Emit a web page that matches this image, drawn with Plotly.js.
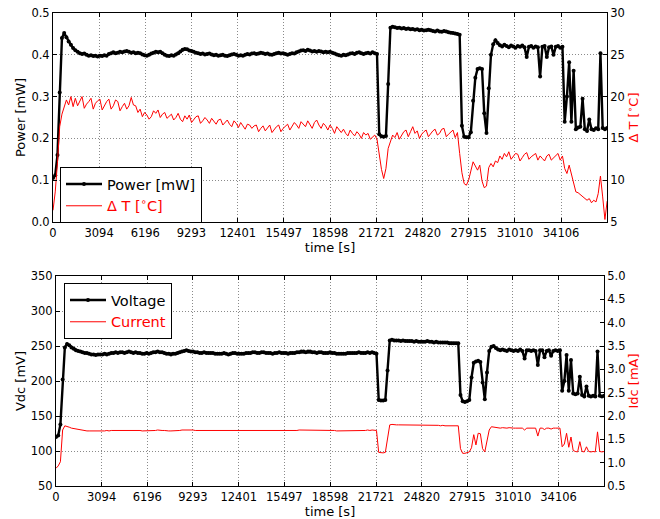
<!DOCTYPE html>
<html><head><meta charset="utf-8">
<script src="https://cdn.plot.ly/plotly-3.0.1.min.js"></script>
<style>html,body{margin:0;padding:0;background:#fff}#chart{width:660px;height:519px}</style>
</head><body><div id="chart"></div>
<script>
// Sampling of the recorded series (seconds)
const SAMPLE_START_S = 0;
const SAMPLE_STEP_S = 150;

const timeTickValues = [0, 3094, 6196, 9293, 12401, 15497, 18598, 21721, 24820, 27915, 31010, 34106];
const timeTickLabels = ['0', '3094', '6196', '9293', '12401', '15497', '18598', '21721', '24820', '27915', '31010', '34106'];

const powerMW = [
0.105,0.112,0.16,0.31,0.44,0.452,0.442,0.432,0.424,0.416,
0.411,0.407,0.404,0.402,0.403,0.400,0.398,0.399,0.397,0.398,
0.396,0.398,0.397,0.399,0.398,0.402,0.404,0.406,0.404,0.405,
0.407,0.406,0.408,0.409,0.407,0.405,0.406,0.404,0.405,0.404,
0.401,0.399,0.398,0.400,0.403,0.405,0.407,0.406,0.407,0.404,
0.400,0.398,0.397,0.399,0.398,0.401,0.404,0.408,0.412,0.414,
0.413,0.410,0.409,0.407,0.405,0.404,0.402,0.403,0.401,0.402,
0.403,0.401,0.399,0.400,0.398,0.399,0.400,0.398,0.397,0.399,
0.401,0.402,0.400,0.398,0.399,0.398,0.400,0.402,0.401,0.403,
0.404,0.402,0.403,0.405,0.404,0.402,0.403,0.401,0.400,0.402,
0.404,0.405,0.403,0.404,0.402,0.400,0.402,0.404,0.403,0.406,
0.408,0.410,0.411,0.409,0.412,0.410,0.408,0.409,0.407,0.409,
0.408,0.406,0.407,0.406,0.407,0.405,0.403,0.401,0.399,0.398,
0.400,0.399,0.401,0.403,0.404,0.402,0.405,0.406,0.404,0.402,
0.404,0.405,0.403,0.406,0.404,0.402,0.21,0.205,0.204,0.206,
0.33,0.465,0.467,0.466,0.464,0.465,0.463,0.464,0.462,0.463,
0.461,0.462,0.460,0.461,0.459,0.460,0.458,0.459,0.460,0.459,
0.457,0.456,0.458,0.456,0.455,0.457,0.456,0.454,0.453,0.452,
0.451,0.450,0.448,0.23,0.204,0.203,0.203,0.215,0.29,0.345,
0.366,0.368,0.366,0.26,0.213,0.32,0.40,0.425,0.435,0.428,
0.423,0.420,0.424,0.421,0.418,0.422,0.420,0.417,0.421,0.419,
0.422,0.418,0.395,0.419,0.421,0.417,0.420,0.418,0.348,0.419,
0.421,0.395,0.418,0.420,0.400,0.419,0.421,0.417,0.419,0.24,
0.30,0.382,0.24,0.362,0.222,0.226,0.228,0.295,0.222,0.218,
0.245,0.222,0.220,0.224,0.222,0.404,0.225,0.222,0.225
];

const deltaTC = [
6.4,8.6,12.1,16.4,17.9,18.7,19.6,19.0,20.0,18.8,
19.8,18.9,19.5,20.0,18.6,19.1,19.4,19.8,18.5,19.2,
19.5,19.7,18.4,18.9,19.4,19.7,18.5,18.9,19.6,19.4,
18.3,18.8,19.2,18.5,18.9,19.9,19.0,18.9,18.1,18.5,
17.6,18.1,17.8,17.3,17.6,18.3,18.0,18.4,17.5,17.9,
18.1,17.4,17.6,17.9,17.2,17.5,18.0,17.3,17.0,17.7,
17.3,17.8,16.9,17.2,17.6,17.7,16.8,17.1,17.5,17.2,
16.8,17.4,17.1,16.7,17.2,17.3,16.6,16.9,17.2,16.7,
16.4,17.1,16.8,16.3,16.9,16.5,16.1,16.7,16.6,16.2,
16.5,16.6,15.8,16.2,16.5,15.9,16.3,16.6,15.7,16.1,
16.4,16.6,15.8,16.2,16.5,16.7,16.0,16.4,16.9,16.6,
16.2,17.0,16.7,16.4,17.1,16.6,16.2,16.9,17.2,16.6,
16.2,16.8,16.5,16.0,16.6,16.2,15.6,16.4,16.0,15.7,
16.1,15.6,15.3,16.0,15.6,15.3,15.8,15.5,15.0,15.7,
15.4,15.6,14.9,15.2,15.4,14.9,13.0,11.3,10.2,11.4,
13.8,14.6,15.4,15.1,15.7,14.9,15.3,15.8,16.0,15.2,
15.8,16.4,15.6,15.9,15.0,15.5,15.8,16.0,15.2,15.6,
15.9,16.1,15.4,15.6,16.1,16.2,15.2,15.5,15.8,16.0,
15.1,15.7,13.2,10.9,9.6,9.4,10.0,11.2,12.2,11.7,
11.2,11.8,9.9,9.1,9.3,11.5,12.0,11.6,12.3,12.1,
12.9,12.5,13.2,12.8,13.4,12.5,12.8,13.2,13.1,12.3,
12.7,13.1,13.3,12.5,12.8,13.0,13.2,12.4,12.9,12.6,
12.3,12.9,13.1,12.4,12.7,13.0,13.2,12.4,12.9,11.4,
10.8,11.8,10.6,9.6,8.6,8.5,8.3,8.0,7.9,7.6,
7.8,7.3,7.6,7.4,8.4,10.5,8.0,5.3,7.5
];

const voltageMV = [
120,122,138,202,248,253,251,248,246,244,
243,242,241,240,240,239,238,238,237,238,
238,238,239,238,239,240,240,241,240,241,
241,240,241,242,241,240,241,240,240,239,
239,240,239,240,241,241,242,241,241,240,
239,239,238,239,239,240,241,242,243,244,
243,242,242,241,241,240,240,241,240,240,
240,240,239,239,239,239,240,239,238,239,
240,240,239,239,239,239,240,240,240,241,
241,240,240,241,241,240,240,240,239,240,
240,241,240,240,240,239,240,240,240,241,
241,242,242,241,242,242,241,241,240,241,
241,240,240,240,241,240,240,239,239,239,
239,239,240,240,240,240,240,241,240,240,
240,241,240,241,240,239,173,172,172,173,
215,258,259,258,258,258,257,258,257,257,
257,257,256,257,256,256,256,256,257,256,
256,255,256,255,255,255,255,255,254,254,
254,254,254,180,171,170,171,173,205,226,
228,229,227,198,174,212,243,249,250,247,
245,244,245,244,243,245,244,243,244,243,
245,243,232,244,244,243,244,243,223,244,
244,234,243,244,236,243,244,243,244,186,
200,237,186,230,182,181,182,206,180,178,
192,179,178,179,178,242,179,178,179
];

const currentMA = [
0.88,0.93,1.02,1.70,1.79,1.78,1.76,1.74,1.73,1.72,
1.71,1.70,1.69,1.69,1.68,1.68,1.68,1.67,1.68,1.68,
1.68,1.68,1.68,1.69,1.68,1.69,1.69,1.69,1.69,1.69,
1.69,1.69,1.69,1.70,1.69,1.69,1.69,1.69,1.69,1.68,
1.68,1.69,1.68,1.69,1.69,1.69,1.70,1.69,1.69,1.69,
1.68,1.68,1.68,1.68,1.69,1.69,1.69,1.70,1.70,1.71,
1.71,1.70,1.70,1.69,1.69,1.69,1.69,1.69,1.69,1.69,
1.69,1.69,1.68,1.68,1.68,1.68,1.69,1.68,1.68,1.68,
1.69,1.69,1.68,1.68,1.68,1.68,1.69,1.69,1.69,1.69,
1.69,1.69,1.69,1.69,1.69,1.69,1.69,1.69,1.68,1.69,
1.69,1.69,1.69,1.69,1.69,1.68,1.69,1.69,1.69,1.69,
1.70,1.70,1.70,1.69,1.70,1.70,1.70,1.69,1.69,1.69,
1.69,1.69,1.69,1.69,1.69,1.69,1.69,1.68,1.68,1.68,
1.68,1.68,1.69,1.69,1.69,1.69,1.69,1.69,1.69,1.69,
1.69,1.70,1.69,1.70,1.69,1.69,1.22,1.21,1.21,1.22,
1.50,1.81,1.82,1.81,1.81,1.81,1.81,1.81,1.81,1.81,
1.81,1.81,1.80,1.81,1.80,1.80,1.80,1.80,1.80,1.80,
1.80,1.80,1.80,1.80,1.79,1.80,1.79,1.79,1.79,1.79,
1.79,1.79,1.79,1.30,1.20,1.20,1.21,1.23,1.32,1.60,
1.38,1.63,1.62,1.30,1.23,1.50,1.70,1.77,1.76,1.75,
1.74,1.74,1.75,1.74,1.74,1.75,1.74,1.74,1.74,1.74,
1.75,1.74,1.70,1.74,1.74,1.74,1.74,1.74,1.57,1.74,
1.74,1.71,1.74,1.74,1.72,1.74,1.74,1.74,1.74,1.34,
1.40,1.63,1.33,1.55,1.26,1.24,1.23,1.45,1.24,1.23,
1.34,1.24,1.23,1.24,1.23,1.66,1.24,1.23,1.24
];

const FONT = 'DejaVu Sans, sans-serif';
const W = 660, H = 519;

const blackSeries = {mode: 'lines+markers', line: {color: '#000', width: 2.4}, marker: {color: '#000', size: 4}};
const redSeries = {mode: 'lines', line: {color: '#ff0000', width: 1}};

const traces = [
  Object.assign({name: 'Power [mW]', x0: SAMPLE_START_S, dx: SAMPLE_STEP_S, y: powerMW, xaxis: 'x', yaxis: 'y', legend: 'legend', legendgroup: 'a'}, blackSeries),
  Object.assign({name: '<span style="color:#ff0000">Δ T [<sup>∘</sup>C]</span>', x0: SAMPLE_START_S, dx: SAMPLE_STEP_S, y: deltaTC, xaxis: 'x', yaxis: 'y2', legend: 'legend', legendgroup: 'b'}, redSeries),
  Object.assign({name: 'Voltage', x0: SAMPLE_START_S, dx: SAMPLE_STEP_S, y: voltageMV, xaxis: 'x2', yaxis: 'y3', legend: 'legend2', legendgroup: 'c'}, blackSeries),
  Object.assign({name: '<span style="color:#ff0000">Current</span>', x0: SAMPLE_START_S, dx: SAMPLE_STEP_S, y: currentMA, xaxis: 'x2', yaxis: 'y4', legend: 'legend2', legendgroup: 'd'}, redSeries)
];

const tickFont = {family: FONT, size: 11.5, color: '#000'};
const titleFont = {family: FONT, size: 13, color: '#000'};
const redTitleFont = {family: FONT, size: 13, color: '#ff0000'};
const base = {showline: true, linecolor: '#000', linewidth: 1, ticks: 'inside', ticklen: 4, tickcolor: '#000', tickfont: tickFont, zeroline: false, automargin: false, fixedrange: true};
const grid = {showgrid: true, gridcolor: '#8a8a8a', griddash: '1px,2px', gridwidth: 1};

function xAx(domain, anchor) {
  return Object.assign({}, base, grid, {domain: domain, anchor: anchor, range: [0, 37190], tickmode: 'array', tickvals: timeTickValues, ticktext: timeTickLabels, mirror: 'ticks', title: {text: 'time [s]', font: titleFont, standoff: 2}});
}

const legendBase = {xanchor: 'left', yanchor: 'top', bgcolor: '#fff', bordercolor: '#000', borderwidth: 1, font: {family: FONT, size: 14.5, color: '#000'}, tracegroupgap: 0, itemwidth: 36};

const layout = {
  width: W, height: H,
  margin: {l: 0, r: 0, t: 0, b: 0},
  paper_bgcolor: '#fff', plot_bgcolor: '#fff',
  font: {family: FONT, size: 12, color: '#000'},
  showlegend: true,
  xaxis: xAx([53 / W, 607 / W], 'y'),
  yaxis: Object.assign({}, base, grid, {domain: [1 - 222 / H, 1 - 13 / H], anchor: 'x', range: [0, 0.5], dtick: 0.1, tickformat: '.1f', title: {text: 'Power [mW]', font: titleFont, standoff: 2}}),
  yaxis2: Object.assign({}, base, {overlaying: 'y', side: 'right', anchor: 'x', range: [5, 30], dtick: 5, showgrid: false, title: {text: 'Δ T [<sup>∘</sup>C]', font: redTitleFont, standoff: 4}}),
  xaxis2: xAx([56 / W, 604 / W], 'y3'),
  yaxis3: Object.assign({}, base, grid, {domain: [1 - 486 / H, 1 - 276 / H], anchor: 'x2', range: [50, 350], dtick: 50, title: {text: 'Vdc [mV]', font: titleFont, standoff: 2}}),
  yaxis4: Object.assign({}, base, {overlaying: 'y3', side: 'right', anchor: 'x2', range: [0.5, 5], dtick: 0.5, tickformat: '.1f', showgrid: false, title: {text: 'Idc [mA]', font: redTitleFont, standoff: 4}}),
  legend: Object.assign({}, legendBase, {x: 60 / W, y: 1 - 167 / H}),
  legend2: Object.assign({}, legendBase, {x: 64 / W, y: 1 - 283 / H})
};

Plotly.newPlot('chart', traces, layout, {displayModeBar: false, staticPlot: true});
</script>
</body></html>
